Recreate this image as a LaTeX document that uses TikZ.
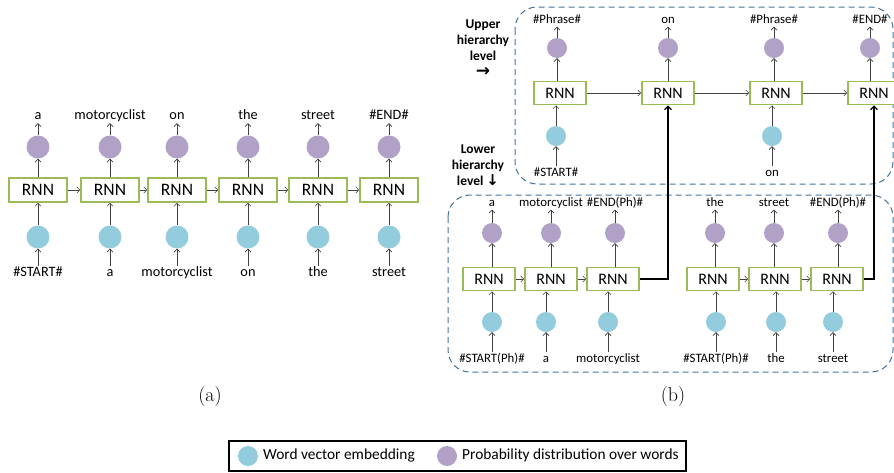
\documentclass[tikz,border=0pt]{standalone}
\usepackage{fontspec}
\newfontfamily\calib{Carlito}
\newfontfamily\dejavu{DejaVu Sans}
\usetikzlibrary{arrows.meta}
\definecolor{rnngreen}{HTML}{9BBB59}
\definecolor{pur}{HTML}{B2A1C7}
\definecolor{blu}{HTML}{93CDDD}
\definecolor{dashblue}{HTML}{41719C}
\definecolor{arrgray}{HTML}{404040}
\begin{document}
\begin{tikzpicture}[x=1pt,y=-1pt,
  rnnA/.style={draw=rnngreen,line width=1.7pt,fill=white,minimum width=58pt,minimum height=24pt,inner sep=0pt,font=\calib\fontsize{17.5}{17.5}\selectfont},
  rnnB/.style={rnnA,minimum width=52pt,minimum height=23pt,font=\calib\fontsize{16}{16}\selectfont},
  pdot/.style={circle,fill=pur,draw=none,minimum size=23pt,inner sep=0pt},
  bdot/.style={circle,fill=blu,draw=none,minimum size=23pt,inner sep=0pt},
  pdotB/.style={pdot,minimum size=20pt},
  bdotB/.style={bdot,minimum size=20pt},
  lblA/.style={font=\calib\fontsize{14.3}{14.3}\selectfont,inner sep=1pt,text height=9.5pt,text depth=2.5pt},
  lblB/.style={font=\calib\fontsize{12.8}{12.8}\selectfont,inner sep=1pt,text height=8.5pt,text depth=2.5pt},
  arr/.style={-{Straight Barb[length=3pt,width=6pt]},line width=0.6pt,draw=arrgray},
  bigarr/.style={-{Straight Barb[length=3.5pt,width=7pt]},line width=1.2pt,draw=black},
  hier/.style={font=\calib\bfseries\fontsize{13.5}{16.2}\selectfont,align=center},
  groupbox/.style={draw=dashblue,dash pattern=on 6pt off 4pt,line width=1pt,rounded corners=22pt},
  captext/.style={font=\fontsize{20}{20}\selectfont},
  legtext/.style={font=\calib\fontsize{15.4}{15.4}\selectfont,anchor=west,inner sep=0pt}
]
\useasboundingbox (0,0) rectangle (894,472);
\clip (0,0) rectangle (894,472);

% ---------------- (a) ----------------
\foreach \i/\x/\tp/\bt in {1/38/a/{\#START\#},2/110/motorcyclist/a,3/177/on/motorcyclist,4/248/the/on,5/318/street/the,6/389/{\#END\#}/street}{
  \node[rnnA] (ar\i) at (\x,190) {RNN};
  \node[pdot] (ap\i) at (\x,147) {};
  \node[bdot] (ab\i) at (\x,237) {};
  \node[lblA] (at\i) at (\x,116) {\tp};
  \node[lblA] (al\i) at (\x,273) {\bt};
  \draw[arr] (al\i) -- (ab\i);
  \draw[arr] (ab\i) -- (ar\i);
  \draw[arr] (ar\i) -- (ap\i);
  \draw[arr] (ap\i) -- (at\i);
}
\foreach \i/\j in {1/2,2/3,3/4,4/5,5/6}{\draw[arr] (ar\i) -- (ar\j);}

% ---------------- (b) upper ----------------
\draw[groupbox] (515,7) rectangle (893,184);
\draw[groupbox] (448,195) rectangle (893,372);

\node[hier] (uplbl) at (483,48) {Upper\\hierarchy\\level\\[-1pt]{\dejavu\bfseries\fontsize{17}{17}\selectfont →}};
\node[hier] (lowlbl) at (478,165) {Lower\\hierarchy\\level {\dejavu\fontsize{15}{15}\selectfont ↓}};

\foreach \i/\x/\px/\tp in {1/560/557/{\#Phrase\#},2/668/668/on,3/776/774/{\#Phrase\#},4/874/870/{\#END\#}}{
  \node[rnnB] (ur\i) at (\x,93) {RNN};
  \node[pdotB] (up\i) at (\px,48) {};
  \node[lblB] (ut\i) at (\px,20) {\tp};
  \draw[arr] (up\i |- ur\i.north) -- (up\i);
  \draw[arr] (up\i) -- (ut\i);
}
\foreach \i/\x/\bt in {1/556/{\#START\#},3/772/on}{
  \node[bdotB] (ub\i) at (\x,136) {};
  \node[lblB] (ul\i) at (\x,173) {\bt};
  \draw[arr] (ul\i) -- (ub\i);
  \draw[arr] (ub\i) -- (ub\i |- ur\i.south);
}
\foreach \i/\j in {1/2,2/3,3/4}{\draw[arr] (ur\i) -- (ur\j);}

% ---------------- (b) lower ----------------
\foreach \i/\x/\px/\bx/\tp/\bt in {1/489/492/492/a/{\#START(Ph)\#},2/551/551/546/motorcyclist/a,3/613/615/608/{\#END(Ph)\#}/motorcyclist,4/713/715/716/the/{\#START(Ph)\#},5/775/774/776/street/the,6/837/838/833/{\#END(Ph)\#}/street}{
  \node[rnnB] (lr\i) at (\x,279) {RNN};
  \node[pdotB] (lp\i) at (\px,233) {};
  \node[lblB] (lt\i) at (\px,203) {\tp};
  \node[bdotB] (lb\i) at (\bx,322) {};
  \node[lblB] (ll\i) at (\bx,359) {\bt};
  \draw[arr] (lp\i |- lr\i.north) -- (lp\i);
  \draw[arr] (lp\i) -- (lt\i);
  \draw[arr] (ll\i) -- (lb\i);
  \draw[arr] (lb\i) -- (lb\i |- lr\i.south);
}
\foreach \i/\j in {1/2,2/3,4/5,5/6}{\draw[arr] (lr\i) -- (lr\j);}

\draw[bigarr] (lr3.east) -| (ur2.south);
\draw[bigarr] (lr6.east) -| (ur4.south);

% ---------------- captions ----------------
\node[captext] (capa) at (210,397) {(a)};
\node[captext] (capb) at (673,397) {(b)};

% ---------------- legend ----------------
\node[draw=black,line width=1.1pt,minimum width=457pt,minimum height=30pt,inner sep=0pt] (leg) at (457.5,456) {};
\node[bdot,minimum size=20pt] (legb) at (248,456) {};
\node[legtext] (legbt) at (263,455) {Word vector embedding};
\node[pdot,minimum size=20pt] (legp) at (447,456) {};
\node[legtext] (legpt) at (462,455) {Probability distribution over words};
\end{tikzpicture}
\end{document}
